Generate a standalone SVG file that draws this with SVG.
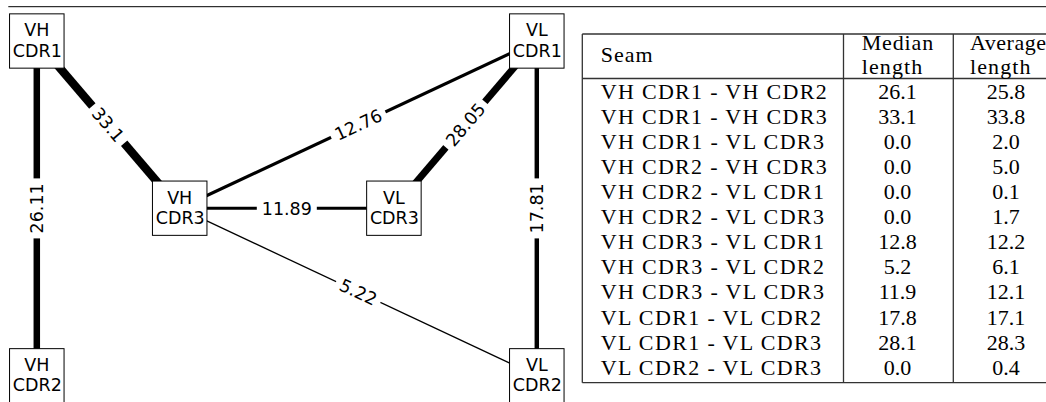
<svg xmlns="http://www.w3.org/2000/svg" width="1046" height="402" viewBox="0 0 1046 402">
<style>
.node rect{fill:#fff;stroke:#000;stroke-width:1}
.node text{font-family:"DejaVu Sans",sans-serif;font-size:17.5px;text-anchor:middle;fill:#000}
.edge{stroke:#000;stroke-linecap:butt}
.elab rect{fill:#fff}
.elab text{font-family:"DejaVu Sans",sans-serif;font-size:17.5px;text-anchor:middle;fill:#000}
.tbl line{stroke:#333;stroke-width:1.3}
.tbl text{font-family:"Liberation Serif","Times New Roman",serif;font-size:22px;fill:#000}
.tbl .c{text-anchor:middle}
</style>
<rect width="1046" height="402" fill="#fff"/>
<line x1="8.3" y1="6.7" x2="1046" y2="6.7" stroke="#000" stroke-width="1"/>

<g id="connectors">
<line class="edge" x1="36.8" y1="41" x2="36.8" y2="375.8" stroke-width="6.5"/>
<line class="edge" x1="36.8" y1="41" x2="179.7" y2="208.2" stroke-width="8.3"/>
<line class="edge" x1="179.7" y1="208.2" x2="536.8" y2="41" stroke-width="3.2"/>
<line class="edge" x1="179.7" y1="208.2" x2="393.9" y2="208.2" stroke-width="3"/>
<line class="edge" x1="536.8" y1="41" x2="393.9" y2="208.2" stroke-width="7"/>
<line class="edge" x1="536.8" y1="41" x2="536.8" y2="375.8" stroke-width="4.45"/>
<line class="edge" x1="179.7" y1="208.2" x2="536.8" y2="375.8" stroke-width="1.3"/>
</g>

<g id="edge-labels">
<g class="elab" transform="translate(36.8,208.4) rotate(-90)"><rect x="-30" y="-12" width="60" height="24"/><text y="6.3">26.11</text></g>
<g class="elab" transform="translate(108.25,124.6) rotate(49.5)"><rect x="-24.5" y="-12" width="49" height="24"/><text y="6.3">33.1</text></g>
<g class="elab" transform="translate(358.25,124.6) rotate(-25.1)"><rect x="-30" y="-12" width="60" height="24"/><text y="6.3">12.76</text></g>
<g class="elab" transform="translate(465.35,124.6) rotate(-49.5)"><rect x="-30" y="-12" width="60" height="24"/><text y="6.3">28.05</text></g>
<g class="elab" transform="translate(286.8,208.2)"><rect x="-30" y="-12" width="60" height="24"/><text y="6.3">11.89</text></g>
<g class="elab" transform="translate(536.8,208.4) rotate(-90)"><rect x="-30" y="-12" width="60" height="24"/><text y="6.3">17.81</text></g>
<g class="elab" transform="translate(358.25,292) rotate(25.1)"><rect x="-24.5" y="-12" width="49" height="24"/><text y="6.3">5.22</text></g>
</g>

<g id="node-vh-cdr1" class="node"><rect x="9.55" y="13.85" width="54.5" height="54.3"/><text x="36.8" y="36">VH</text><text x="37.3" y="57">CDR1</text></g>
<g id="node-vl-cdr1" class="node"><rect x="509.55" y="13.85" width="54.5" height="54.3"/><text x="536.8" y="36">VL</text><text x="537.3" y="57">CDR1</text></g>
<g id="node-vh-cdr3" class="node"><rect x="152.45" y="181.05" width="54.5" height="54.3"/><text x="179.7" y="203.5">VH</text><text x="180.2" y="224">CDR3</text></g>
<g id="node-vl-cdr3" class="node"><rect x="366.65" y="181.05" width="54.5" height="54.3"/><text x="393.9" y="203.5">VL</text><text x="394.4" y="224">CDR3</text></g>
<g id="node-vh-cdr2" class="node"><rect x="9.55" y="348.65" width="54.5" height="54.3"/><text x="36.8" y="371">VH</text><text x="37.3" y="391">CDR2</text></g>
<g id="node-vl-cdr2" class="node"><rect x="509.55" y="348.65" width="54.5" height="54.3"/><text x="536.8" y="371">VL</text><text x="537.3" y="391">CDR2</text></g>

<g id="table" class="tbl">
<line x1="582.3" y1="34" x2="1060" y2="34"/>
<line x1="582.3" y1="78.5" x2="1060" y2="78.5"/>
<line x1="582.3" y1="382.7" x2="1060" y2="382.7"/>
<line x1="582.3" y1="34" x2="582.3" y2="382.7"/>
<line x1="843.5" y1="34" x2="843.5" y2="382.7"/>
<line x1="953.3" y1="34" x2="953.3" y2="382.7"/>
<text x="600.7" y="61.5" textLength="52" lengthAdjust="spacing">Seam</text>
<text x="861.7" y="50" textLength="71.5" lengthAdjust="spacing">Median</text>
<text x="861.7" y="74" textLength="60.5" lengthAdjust="spacing">length</text>
<text x="970" y="50" textLength="76" lengthAdjust="spacing">Average</text>
<text x="970" y="74" textLength="60.5" lengthAdjust="spacing">length</text>

<text x="600.7" y="98.6" textLength="226" lengthAdjust="spacing">VH CDR1 - VH CDR2</text>
<text x="600.7" y="123.7" textLength="226" lengthAdjust="spacing">VH CDR1 - VH CDR3</text>
<text x="600.7" y="148.8" textLength="223.2" lengthAdjust="spacing">VH CDR1 - VL CDR3</text>
<text x="600.7" y="173.9" textLength="226" lengthAdjust="spacing">VH CDR2 - VH CDR3</text>
<text x="600.7" y="199" textLength="223.2" lengthAdjust="spacing">VH CDR2 - VL CDR1</text>
<text x="600.7" y="224.1" textLength="223.2" lengthAdjust="spacing">VH CDR2 - VL CDR3</text>
<text x="600.7" y="249.2" textLength="223.2" lengthAdjust="spacing">VH CDR3 - VL CDR1</text>
<text x="600.7" y="274.3" textLength="223.2" lengthAdjust="spacing">VH CDR3 - VL CDR2</text>
<text x="600.7" y="299.4" textLength="223.2" lengthAdjust="spacing">VH CDR3 - VL CDR3</text>
<text x="600.7" y="324.5" textLength="220.4" lengthAdjust="spacing">VL CDR1 - VL CDR2</text>
<text x="600.7" y="349.6" textLength="220.4" lengthAdjust="spacing">VL CDR1 - VL CDR3</text>
<text x="600.7" y="374.7" textLength="220.4" lengthAdjust="spacing">VL CDR2 - VL CDR3</text>

<text class="c" x="897.5" y="98.6">26.1</text>
<text class="c" x="897.5" y="123.7">33.1</text>
<text class="c" x="897.5" y="148.8">0.0</text>
<text class="c" x="897.5" y="173.9">0.0</text>
<text class="c" x="897.5" y="199">0.0</text>
<text class="c" x="897.5" y="224.1">0.0</text>
<text class="c" x="897.5" y="249.2">12.8</text>
<text class="c" x="897.5" y="274.3">5.2</text>
<text class="c" x="897.5" y="299.4">11.9</text>
<text class="c" x="897.5" y="324.5">17.8</text>
<text class="c" x="897.5" y="349.6">28.1</text>
<text class="c" x="897.5" y="374.7">0.0</text>

<text class="c" x="1006" y="98.6">25.8</text>
<text class="c" x="1006" y="123.7">33.8</text>
<text class="c" x="1006" y="148.8">2.0</text>
<text class="c" x="1006" y="173.9">5.0</text>
<text class="c" x="1006" y="199">0.1</text>
<text class="c" x="1006" y="224.1">1.7</text>
<text class="c" x="1006" y="249.2">12.2</text>
<text class="c" x="1006" y="274.3">6.1</text>
<text class="c" x="1006" y="299.4">12.1</text>
<text class="c" x="1006" y="324.5">17.1</text>
<text class="c" x="1006" y="349.6">28.3</text>
<text class="c" x="1006" y="374.7">0.4</text>
</g>
</svg>
